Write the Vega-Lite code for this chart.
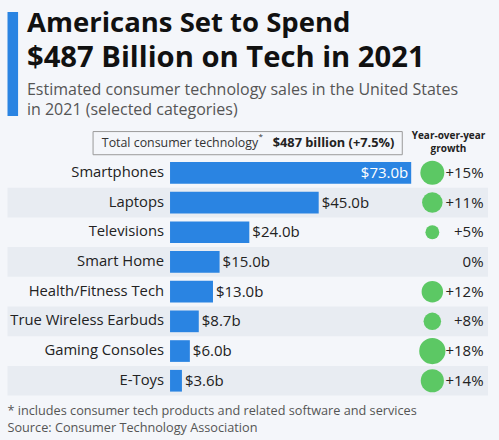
{
  "$schema": "https://vega.github.io/schema/vega-lite/v6.json",
  "width": 480.5,
  "height": 415.8,
  "autosize": {"type": "none"},
  "padding": {"left": 7.5, "top": 9.5, "right": 11, "bottom": 15},
  "background": "#f4f6fa",
  "config": {"view": {"stroke": null}, "font": "Open Sans"},
  "data": {
    "values": [
      {"category": "Smartphones", "sales": 73.0, "label": "$73.0b", "growth": 15, "growthLabel": "+15%"},
      {"category": "Laptops", "sales": 45.0, "label": "$45.0b", "growth": 11, "growthLabel": "+11%"},
      {"category": "Televisions", "sales": 24.0, "label": "$24.0b", "growth": 5, "growthLabel": "+5%"},
      {"category": "Smart Home", "sales": 15.0, "label": "$15.0b", "growth": 0, "growthLabel": "0%"},
      {"category": "Health/Fitness Tech", "sales": 13.0, "label": "$13.0b", "growth": 12, "growthLabel": "+12%"},
      {"category": "True Wireless Earbuds", "sales": 8.7, "label": "$8.7b", "growth": 8, "growthLabel": "+8%"},
      {"category": "Gaming Consoles", "sales": 6.0, "label": "$6.0b", "growth": 18, "growthLabel": "+18%"},
      {"category": "E-Toys", "sales": 3.6, "label": "$3.6b", "growth": 14, "growthLabel": "+14%"}
    ]
  },
  "layer": [
    {
      "transform": [{"filter": {"field": "category", "oneOf": ["Laptops", "Smart Home", "True Wireless Earbuds", "E-Toys"]}}],
      "mark": {"type": "rect", "color": "#e8ecf2"},
      "encoding": {
        "x": {"datum": -49.2, "type": "quantitative", "scale": {"domain": [-49.2, 96.25], "nice": false, "zero": false}, "axis": null},
        "x2": {"datum": 96.25},
        "y": {
          "field": "category", "type": "nominal", "axis": null,
          "scale": {
            "domain": ["t1", "t2", "t3", "t4", "header", "Smartphones", "Laptops", "Televisions", "Smart Home", "Health/Fitness Tech", "True Wireless Earbuds", "Gaming Consoles", "E-Toys", "footer"],
            "paddingInner": 0, "paddingOuter": 0
          }
        }
      }
    },
    {
      "mark": {"type": "bar", "color": "#2a84e2", "height": {"band": 0.73}},
      "encoding": {
        "x": {"field": "sales", "type": "quantitative"},
        "y": {"field": "category", "type": "nominal"}
      }
    },
    {
      "transform": [{"filter": "datum.sales > 50"}],
      "mark": {"type": "text", "align": "right", "baseline": "middle", "dx": -3, "fontSize": 15, "color": "white"},
      "encoding": {
        "x": {"field": "sales", "type": "quantitative"},
        "y": {"field": "category", "type": "nominal"},
        "text": {"field": "label"}
      }
    },
    {
      "transform": [{"filter": "datum.sales <= 50"}],
      "mark": {"type": "text", "align": "left", "baseline": "middle", "dx": 3, "fontSize": 15, "color": "#222222"},
      "encoding": {
        "x": {"field": "sales", "type": "quantitative"},
        "y": {"field": "category", "type": "nominal"},
        "text": {"field": "label"}
      }
    },
    {
      "mark": {"type": "text", "align": "right", "baseline": "middle", "dx": -6, "fontSize": 14.8, "color": "#222222"},
      "encoding": {
        "x": {"datum": 0, "type": "quantitative"},
        "y": {"field": "category", "type": "nominal"},
        "text": {"field": "category"}
      }
    },
    {
      "mark": {"type": "circle", "color": "#5cc864", "opacity": 1},
      "encoding": {
        "x": {"datum": 79.4, "type": "quantitative"},
        "y": {"field": "category", "type": "nominal"},
        "size": {"field": "growth", "type": "quantitative", "scale": {"domain": [0, 18], "range": [0, 690]}, "legend": null}
      }
    },
    {
      "mark": {"type": "text", "align": "right", "baseline": "middle", "fontSize": 15, "color": "#222222"},
      "encoding": {
        "x": {"datum": 94.9, "type": "quantitative"},
        "y": {"field": "category", "type": "nominal"},
        "text": {"field": "growthLabel"}
      }
    },
    {
      "data": {"values": [{"row": "header"}]},
      "mark": {"type": "bar", "fill": null, "fillOpacity": 0, "stroke": "#9a9a9a", "strokeWidth": 1, "height": {"band": 0.78}},
      "encoding": {
        "x": {"datum": -23.3, "type": "quantitative"},
        "x2": {"datum": 70.3},
        "y": {"field": "row", "type": "nominal"}
      }
    },
    {
      "data": {"values": [{"row": "header", "text": "Total consumer technology"}]},
      "mark": {"type": "text", "align": "left", "baseline": "middle", "fontSize": 12.4, "color": "#333333"},
      "encoding": {
        "x": {"datum": -20.65, "type": "quantitative"},
        "y": {"field": "row", "type": "nominal"},
        "text": {"field": "text"}
      }
    },
    {
      "data": {"values": [{"row": "header", "text": "*"}]},
      "mark": {"type": "text", "align": "left", "baseline": "middle", "fontSize": 8, "dy": -5, "color": "#333333"},
      "encoding": {
        "x": {"datum": 26.8, "type": "quantitative"},
        "y": {"field": "row", "type": "nominal"},
        "text": {"field": "text"}
      }
    },
    {
      "data": {"values": [{"row": "header", "text": "$487 billion (+7.5%)"}]},
      "mark": {"type": "text", "align": "right", "baseline": "middle", "fontSize": 12.8, "fontWeight": "bold", "color": "#222222"},
      "encoding": {
        "x": {"datum": 67.9, "type": "quantitative"},
        "y": {"field": "row", "type": "nominal"},
        "text": {"field": "text"}
      }
    },
    {
      "data": {"values": [{"row": "header"}]},
      "mark": {"type": "text", "align": "center", "baseline": "middle", "fontSize": 10, "fontWeight": "bold", "lineHeight": 13, "dy": -7.5, "color": "#222222"},
      "encoding": {
        "x": {"datum": 84.3, "type": "quantitative"},
        "y": {"field": "row", "type": "nominal"},
        "text": {"value": ["Year-over-year", "growth"]}
      }
    },
    {
      "data": {"values": [{"top": "t1", "bottom": "t4"}]},
      "mark": {"type": "rect", "color": "#2a84e2"},
      "encoding": {
        "x": {"datum": -49.2, "type": "quantitative"},
        "x2": {"datum": -46.0},
        "y": {"field": "top", "type": "nominal", "bandPosition": 0.08},
        "y2": {"field": "bottom", "bandPosition": 0.59}
      }
    },
    {
      "data": {"values": [{"row": "t1", "text": "Americans Set to Spend"}]},
      "mark": {"type": "text", "align": "left", "baseline": "alphabetic", "fontSize": 27.5, "fontWeight": "bold", "dy": 7.5, "color": "#111111"},
      "encoding": {
        "x": {"datum": -43.3, "type": "quantitative"},
        "y": {"field": "row", "type": "nominal"},
        "text": {"field": "text"}
      }
    },
    {
      "data": {"values": [{"row": "t2", "text": "$487 Billion on Tech in 2021"}]},
      "mark": {"type": "text", "align": "left", "baseline": "alphabetic", "fontSize": 29.2, "fontWeight": "bold", "dy": 13, "color": "#111111"},
      "encoding": {
        "x": {"datum": -43.3, "type": "quantitative"},
        "y": {"field": "row", "type": "nominal"},
        "text": {"field": "text"}
      }
    },
    {
      "data": {"values": [{"row": "t3"}]},
      "mark": {"type": "text", "align": "left", "baseline": "alphabetic", "fontSize": 16, "lineHeight": 20, "dy": 11.25, "color": "#555555"},
      "encoding": {
        "x": {"datum": -43.3, "type": "quantitative"},
        "y": {"field": "row", "type": "nominal"},
        "text": {"value": ["Estimated consumer technology sales in the United States", "in 2021 (selected categories)"]}
      }
    },
    {
      "data": {"values": [{"row": "footer"}]},
      "mark": {"type": "text", "align": "left", "baseline": "alphabetic", "fontSize": 12.7, "lineHeight": 17, "dy": 5, "color": "#555555"},
      "encoding": {
        "x": {"datum": -49.2, "type": "quantitative"},
        "y": {"field": "row", "type": "nominal"},
        "text": {"value": ["* includes consumer tech products and related software and services", "Source: Consumer Technology Association"]}
      }
    }
  ]
}
